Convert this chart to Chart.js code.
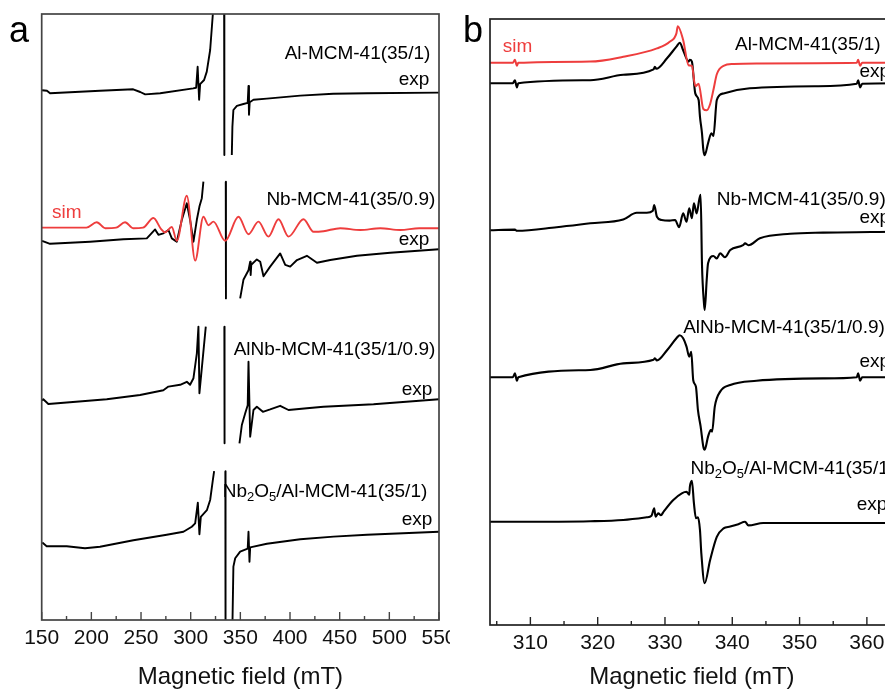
<!DOCTYPE html>
<html><head><meta charset="utf-8">
<script src="https://cdn.jsdelivr.net/npm/chart.js@4/dist/chart.umd.min.js"></script>
<style>
html,body{margin:0;padding:0;overflow:hidden;background:#fff;width:885px;height:693px;}
#wa{position:absolute;left:0;top:0;width:450px;height:693px;}
#wb{position:absolute;left:450px;top:0;width:460px;height:693px;}
canvas{display:block}
</style></head><body>
<div id="wa"><canvas id="ca" width="450" height="693"></canvas></div>
<div id="wb"><canvas id="cb" width="460" height="693"></canvas></div>
<script>
// ---------- Panel a data (field in mT, intensity in arbitrary stacked units) ----------
const ticksA = [150,200,250,300,350,400,450,500,550];
const minorA = [175,225,275,325,375,425,475,525];

const fieldA1 = [150.3,155.3,158.4,208.7,242.1,249.2,254.2,269.3,302.5,305.5,307.0,308.5,309.5,313.5,316.2,319.6,322.3,323.3,328,333.6,333.9,338,341.4,342.0,343.0,346.5,353.1,357.4,358.2,358.7,359.4,363.2,376.7,410.3,443.5,477.5,550];
const intA1   = [88.3,88.2,87.8,88.2,88.45,88.0,87.6,87.8,88.6,88.7,92.2,86.7,89.3,90.0,91.4,95.0,100.95,104,null,110,77.5,null,77.5,82.2,85.0,85.7,86.0,86.2,89.0,84.2,86.3,86.7,86.9,87.4,87.7,87.8,87.9];

const fieldA2sim = [150.3,195,205.4,214,225,233.9,242,252,262.5,270,274.2,281.0,286.0,296.1,304.5,312.8,317.9,322.9,334.7,348.1,358.2,368.2,378.3,388.4,398.5,413.6,423.7,433.7,450.6,470.7,490.9,511,530,550];
const intA2sim   = [65.4,65.4,66.3,65.3,65.4,66.3,65.3,65.4,67.0,65.2,64.6,65.5,63.2,70.7,59.9,67.2,65.8,66.4,63.2,67.2,64.3,66.4,63.9,66.8,63.9,66.8,64.7,64.8,65.3,65.0,65.3,65.0,65.3,65.3];

const fieldA2 = [150.3,158.4,198.7,232.2,255.8,259.1,264.2,267.5,272.5,277.6,281.0,286.0,291.1,296.1,299.4,302.8,306.2,308.8,311.2,312.8,324,335.3,335.5,340,349.8,353.1,358.2,359.9,360.4,361,366.6,370.0,373.3,380.0,390.1,395.2,400.2,407.0,417.0,427.1,440.5,467.4,500.9,550];
const intA2   = [63.2,62.7,63.05,63.45,63.6,64.2,65.1,64.2,64.45,65.0,63.6,63.05,66.7,69.45,66.7,63.05,66.7,68.9,70.3,73.05,null,73.05,53.6,null,53.6,56.7,58.3,59.7,57.5,59.2,60.1,59.7,57.3,58.9,61.1,59.2,58.9,60.0,60.7,59.55,60.0,60.7,61.2,61.8];

const fieldA3 = [150.3,151.6,156.7,215.5,249.0,272.5,277.6,289.4,296.1,299.4,302.8,306.2,307.8,308.8,315.2,324,333.9,334.1,340,349.1,351.5,354.9,357.4,358.2,359.9,363.2,366.6,372.7,380.0,390.1,398.5,417.0,433.7,484.1,550];
const intA3   = [36.55,36.8,36.0,36.8,37.5,38.3,38.9,39.2,39.7,39.2,40.3,44.45,48.9,37.8,48.9,null,48.9,29.45,null,29.45,32.5,34.45,35.8,43.05,30.55,35.0,35.55,34.7,35.1,35.7,35.0,35.3,35.55,35.95,36.8];

const fieldA4 = [150.6,155.0,175.2,193.6,208.7,242.3,275.9,292.7,301.1,304.5,307.2,308.8,310.2,316.3,319.6,322.3,323.6,329,334.9,335.1,338,341.8,343.0,344.8,349.8,357.4,358.2,359.2,359.9,376.7,410.3,443.8,477.5,550];
const intA4   = [12.9,12.3,12.3,11.95,12.2,13.3,14.2,14.7,15.55,16.1,19.55,14.3,17.2,18.3,20.0,23.3,24.8,null,24.8,-5,null,-3,8.9,10.3,11.4,11.9,14.7,9.7,12.1,12.7,13.45,13.9,14.2,14.7];

// ---------- Panel b data ----------
const ticksB = [310,320,330,340,350,360];
const minorB = [305,315,325,335,345,355];

const fieldB1sim = [304.0,307.4,307.7,308.0,308.2,318.9,323.8,328.8,330.7,331.7,331.9,332.7,333.5,334.0,334.5,335.0,335.7,336.2,336.7,337.2,337.7,338.7,340.2,343.6,358.5,358.7,359.0,359.3,364.2];
const intB1sim   = [93.7,93.7,94.2,93.2,93.7,93.9,94.7,96.1,97.2,98.6,99.8,97.5,93.3,93.2,89.8,90.2,86.0,85.8,86.8,89.2,91.8,93.2,93.5,93.6,93.7,94.2,93.2,93.7,93.7];

const fieldB1 = [304.0,307.4,307.7,308.0,308.2,318.9,323.8,328.3,328.5,328.7,330.3,331.7,332.2,332.7,333.5,333.7,334.0,334.5,335.0,335.2,335.5,335.7,335.9,336.4,336.9,337.2,337.7,338.7,342.6,352.5,358.5,358.7,359.0,359.3,364.2];
const intB1   = [90.3,90.3,90.8,89.6,90.3,90.8,91.7,92.6,93.05,92.7,94.45,96.4,97.05,95.8,93.9,94.2,93.9,88.6,87.5,84.7,81.95,79.2,78.3,80.3,81.95,81.5,87.5,88.6,89.45,89.8,90.2,90.8,89.6,90.2,90.3];

const fieldB2 = [304.0,307.7,308.0,313.9,318.9,323.8,325.8,327.3,328.2,328.4,328.8,329.5,330.7,331.5,332.1,332.7,333.2,333.6,334.0,334.3,334.7,335.1,335.3,335.5,335.8,335.9,336.2,336.4,337.2,337.7,338.2,338.9,339.7,341.6,341.9,342.4,344.1,348.6,353.5,364.2];
const intB2   = [65.8,65.9,65.7,66.3,66.95,67.6,68.7,68.7,69.05,70.0,68.05,67.5,67.4,67.5,66.3,68.6,67.2,69.45,67.8,70.3,68.6,70.95,71.7,60.0,53.5,52.5,57.5,60.3,61.5,61.1,61.95,61.3,62.5,63.3,63.6,63.3,64.45,65.2,65.4,65.55];

const fieldB3 = [304.0,307.4,307.7,308.0,308.2,318.9,323.8,328.3,328.5,328.8,330.3,331.7,332.2,332.7,333.2,333.6,333.9,334.2,334.6,334.9,335.3,335.7,335.9,336.4,336.8,337.0,337.4,338.2,339.7,343.6,353.5,358.5,358.7,359.0,359.3,364.2];
const intB3   = [41.3,41.3,41.95,40.7,41.3,42.5,43.6,44.2,44.45,44.1,45.8,47.8,48.3,47.8,46.4,44.7,45.55,40.8,39.7,35.8,33.05,29.7,29.2,31.4,32.5,32.2,36.4,38.9,40.0,40.7,41.1,41.3,41.95,40.7,41.3,41.3];

const fieldB4 = [304.0,308.0,318.9,323.8,327.3,328.0,328.4,328.6,329.0,329.4,329.8,331.2,332.5,333.2,333.6,333.7,334.0,334.3,334.6,334.9,335.2,335.4,335.9,336.7,337.7,338.7,339.7,340.9,341.9,342.4,344.6,353.5,364.2];
const intB4   = [17.2,17.2,17.3,17.5,17.95,18.2,19.45,18.05,18.6,18.3,18.9,20.8,21.95,22.2,21.7,23.05,24.05,20.3,17.8,17.95,15.8,11.95,6.95,10.8,14.7,16.1,16.4,16.8,17.2,16.6,17.0,17.0,17.0];

// ---------- Text ----------
const sampleNames = ['Al-MCM-41(35/1)','Nb-MCM-41(35/0.9)','AlNb-MCM-41(35/1/0.9)','Nb_2O_5/Al-MCM-41(35/1)'];
const expText = 'exp', simText = 'sim';
const axisTitle = 'Magnetic field (mT)';

const FONT = '"Liberation Sans", Arial, Helvetica, sans-serif';
const RED = '#ee3d3d';

// label anchors (data coords)
const labelsA = [
  {t:sampleNames[0], x:541.3, y:94.3, a:'right'},
  {t:expText, x:540.3, y:90.0, a:'right'},
  {t:sampleNames[1], x:546.3, y:70.0, a:'right'},
  {t:simText, x:160.4, y:67.8, a:'left', c:RED},
  {t:expText, x:540.3, y:63.3, a:'right'},
  {t:sampleNames[2], x:546.3, y:45.0, a:'right'},
  {t:expText, x:543.3, y:38.3, a:'right'},
  {t:sampleNames[3], x:538.2, y:21.3, a:'right'},
  {t:expText, x:543.3, y:16.7, a:'right'}
];
const labelsB = [
  {t:simText, x:305.9, y:96.4, a:'left', c:RED},
  {t:sampleNames[0], x:340.4, y:96.7, a:'left'},
  {t:expText, x:358.9, y:92.2, a:'left'},
  {t:sampleNames[1], x:337.7, y:70.8, a:'left'},
  {t:expText, x:358.9, y:67.8, a:'left'},
  {t:sampleNames[2], x:332.7, y:49.5, a:'left'},
  {t:expText, x:358.9, y:43.9, a:'left'},
  {t:sampleNames[3], x:333.8, y:26.0, a:'left'},
  {t:expText, x:358.5, y:20.0, a:'left'}
];

function ds(xs, ys, color, width, smooth) {
  return {
    data: xs.map((x, i) => ({x: x, y: ys[i]})),
    borderColor: color, borderWidth: width, pointRadius: 0, fill: false,
    tension: smooth ? 0.4 : 0,
    cubicInterpolationMode: smooth ? 'monotone' : 'default',
    borderJoinStyle: 'round',
    spanGaps: false
  };
}

function segs(t) {
  const out = []; let i = 0, cur = '';
  while (i < t.length) {
    if (t[i] === '_') { if (cur) out.push([cur, false]); cur=''; out.push([t[i+1], true]); i += 2; }
    else { cur += t[i]; i++; }
  }
  if (cur) out.push([cur, false]);
  return out;
}

const decor = {
  id: 'decor',
  afterDatasetsDraw(chart, args, o) {
    const ctx = chart.ctx, ca = chart.chartArea, xs = chart.scales.x, ys = chart.scales.y;
    ctx.save();
    ctx.strokeStyle = o.frameColor; ctx.lineWidth = 1.7;
    ctx.strokeRect(ca.left, ca.top, ca.right - ca.left, ca.bottom - ca.top);
    ctx.lineWidth = 1.4;
    const tick = (v, len) => {
      const px = xs.getPixelForValue(v);
      ctx.beginPath(); ctx.moveTo(px, ca.bottom); ctx.lineTo(px, ca.bottom - len); ctx.stroke();
    };
    o.major.forEach(v => tick(v, 8));
    o.minor.forEach(v => tick(v, 4));
    ctx.textBaseline = 'middle';
    const fs = 19, sfs = 13;
    o.labels.forEach(l => {
      const parts = segs(l.t);
      let w = 0;
      parts.forEach(p => { ctx.font = (p[1] ? sfs : fs) + 'px ' + FONT; w += ctx.measureText(p[0]).width; });
      let px = xs.getPixelForValue(l.x);
      const py = ys.getPixelForValue(l.y);
      if (l.a === 'right') px -= w;
      ctx.fillStyle = l.c || '#000'; ctx.textAlign = 'left';
      parts.forEach(p => {
        ctx.font = (p[1] ? sfs : fs) + 'px ' + FONT;
        ctx.fillText(p[0], px, py + (p[1] ? 5 : 0));
        px += ctx.measureText(p[0]).width;
      });
    });
    ctx.font = '36px ' + FONT; ctx.fillStyle = '#000';
    ctx.textAlign = 'left'; ctx.textBaseline = 'alphabetic';
    ctx.fillText(o.letter, o.letterX, o.letterY);
    ctx.restore();
  }
};

function makeChart(id, datasets, xmin, xmax, ticks, minor, labels, letter, letterX, pad, axisH, frameColor) {
  return new Chart(document.getElementById(id), {
    type: 'line',
    data: { datasets: datasets },
    options: {
      responsive: false, animation: false, events: [],
      layout: { padding: pad },
      plugins: {
        legend: { display: false }, tooltip: { enabled: false },
        decor: { major: ticks, minor: minor, labels: labels, letter: letter, letterX: letterX, letterY: 42, frameColor: frameColor }
      },
      scales: {
        x: {
          type: 'linear', min: xmin, max: xmax,
          afterBuildTicks: (s) => { s.ticks = ticks.map(v => ({value: v})); },
          afterFit: (s) => { s.height = axisH; s.paddingLeft = 0; s.paddingRight = 0; },
          grid: { display: false, drawTicks: false },
          border: { display: false },
          ticks: { font: { family: FONT, size: 21 }, color: '#111', padding: 6, maxRotation: 0, autoSkip: false },
          title: { display: true, text: axisTitle, font: { family: FONT, size: 24 }, color: '#111', padding: { top: 0, bottom: 1 } }
        },
        y: { display: false, min: 0, max: 101 }
      }
    },
    plugins: [decor]
  });
}

makeChart('ca', [
  ds(fieldA2sim, intA2sim, RED, 1.9, true),
  ds(fieldA1, intA1, '#000', 1.9, false),
  ds(fieldA2, intA2, '#000', 1.9, false),
  ds(fieldA3, intA3, '#000', 1.9, false),
  ds(fieldA4, intA4, '#000', 1.9, false)
], 150, 550, ticksA, minorA, labelsA, 'a', 9, {left: 41.7, right: 11, top: 14, bottom: 0}, 73, '#444');

makeChart('cb', [
  ds(fieldB1sim, intB1sim, RED, 2.0, true),
  ds(fieldB1, intB1, '#000', 2.1, true),
  ds(fieldB2, intB2, '#000', 2.1, true),
  ds(fieldB3, intB3, '#000', 2.1, true),
  ds(fieldB4, intB4, '#000', 2.1, true)
], 304, 364, ticksB, minorB, labelsB, 'b', 13, {left: 40, right: 16.2, top: 19, bottom: 0}, 68, '#222');
</script>
</body></html>
